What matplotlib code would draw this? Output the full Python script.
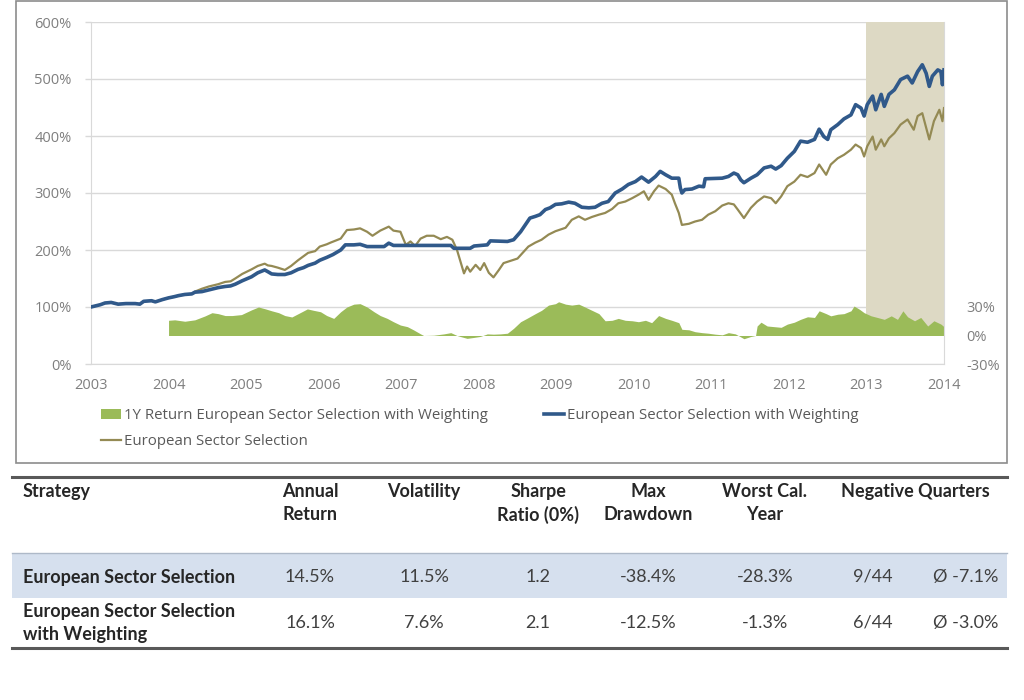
import matplotlib
matplotlib.use("Agg")
import matplotlib.pyplot as plt
from matplotlib.lines import Line2D
from matplotlib.patches import Patch, Rectangle
from matplotlib.ticker import FuncFormatter

# ---- data (decimal years, % values) ----
wt_t = [2003.00, 2003.06, 2003.12, 2003.18, 2003.26, 2003.35, 2003.45, 2003.57, 2003.63, 2003.68,
        2003.78, 2003.83, 2003.92, 2004.00, 2004.07, 2004.13, 2004.21, 2004.30, 2004.34, 2004.43,
        2004.52, 2004.64, 2004.73, 2004.80, 2004.86, 2004.95, 2005.07, 2005.15, 2005.24, 2005.28,
        2005.33, 2005.41, 2005.50, 2005.58, 2005.67, 2005.74, 2005.80, 2005.89, 2005.95, 2006.04,
        2006.12, 2006.22, 2006.28, 2006.39, 2006.47, 2006.56, 2006.78, 2006.84, 2006.90, 2007.64,
        2007.68, 2007.89, 2007.94, 2008.11, 2008.15, 2008.37, 2008.45, 2008.54, 2008.60, 2008.66,
        2008.73, 2008.79, 2008.86, 2008.92, 2008.99, 2009.07, 2009.16, 2009.24, 2009.33, 2009.42,
        2009.50, 2009.59, 2009.67, 2009.76, 2009.85, 2009.93, 2010.02, 2010.10, 2010.19, 2010.28,
        2010.34, 2010.41, 2010.49, 2010.58, 2010.60, 2010.62, 2010.66, 2010.75, 2010.84, 2010.90,
        2010.92, 2011.14, 2011.22, 2011.29, 2011.34, 2011.38, 2011.42, 2011.51, 2011.59, 2011.68,
        2011.77, 2011.83, 2011.90, 2011.98, 2012.07, 2012.15, 2012.24, 2012.33, 2012.39, 2012.45,
        2012.50, 2012.54, 2012.63, 2012.71, 2012.80, 2012.86, 2012.93, 2012.97, 2013.01, 2013.08,
        2013.12, 2013.19, 2013.23, 2013.29, 2013.36, 2013.44, 2013.53, 2013.59, 2013.66, 2013.72,
        2013.77, 2013.81, 2013.85, 2013.92, 2013.96, 2013.98, 2014.00]
wt_v = [100, 102, 104, 107, 108, 105, 106, 106, 105, 110,
        111, 109, 113, 116, 118, 120, 122, 123, 126, 127,
        130, 134, 136, 137, 140, 146, 153, 160, 165, 162,
        158, 157, 157, 160, 166, 169, 173, 177, 182, 187,
        192, 200, 209, 209, 210, 206, 206, 212, 208, 208,
        203, 203, 207, 209, 216, 215, 218, 232, 244, 256,
        259, 262, 271, 274, 280, 281, 284, 282, 275, 274,
        275, 282, 285, 300, 307, 315, 320, 328, 319, 329,
        338, 332, 326, 326, 309, 300, 306, 307, 312, 311,
        325, 326, 329, 335, 332, 323, 318, 326, 332, 344,
        347, 342, 348, 361, 373, 391, 389, 394, 412, 399,
        394, 411, 420, 430, 437, 455, 449, 435, 455, 470,
        446, 473, 452, 473, 481, 499, 505, 493, 513, 525,
        510, 487, 505, 516, 513, 490, 516]

es_t = [2003.00, 2003.06, 2003.12, 2003.18, 2003.26, 2003.35, 2003.45, 2003.57, 2003.63, 2003.68,
        2003.78, 2003.83, 2003.92, 2004.00, 2004.07, 2004.13, 2004.21, 2004.30, 2004.34, 2004.43,
        2004.52, 2004.64, 2004.73, 2004.80, 2004.86, 2004.95, 2005.07, 2005.15, 2005.24, 2005.28,
        2005.33, 2005.41, 2005.50, 2005.58, 2005.67, 2005.74, 2005.80, 2005.89, 2005.95, 2006.04,
        2006.09, 2006.22, 2006.30, 2006.39, 2006.47, 2006.56, 2006.63, 2006.73, 2006.84, 2006.90,
        2006.99, 2007.06, 2007.12, 2007.18, 2007.25, 2007.33, 2007.42, 2007.51, 2007.59, 2007.66,
        2007.72, 2007.76, 2007.81, 2007.85, 2007.89, 2007.96, 2008.02, 2008.07, 2008.13, 2008.19,
        2008.26, 2008.32, 2008.41, 2008.50, 2008.58, 2008.64, 2008.73, 2008.81, 2008.90, 2008.99,
        2009.12, 2009.20, 2009.29, 2009.37, 2009.46, 2009.55, 2009.63, 2009.72, 2009.80, 2009.89,
        2009.98, 2010.06, 2010.13, 2010.19, 2010.26, 2010.32, 2010.41, 2010.49, 2010.53, 2010.58,
        2010.62, 2010.71, 2010.79, 2010.88, 2010.96, 2011.05, 2011.14, 2011.22, 2011.29, 2011.34,
        2011.42, 2011.51, 2011.59, 2011.68, 2011.77, 2011.83, 2011.90, 2011.98, 2012.07, 2012.15,
        2012.24, 2012.33, 2012.39, 2012.48, 2012.54, 2012.63, 2012.71, 2012.80, 2012.86, 2012.93,
        2012.97, 2013.01, 2013.08, 2013.12, 2013.19, 2013.23, 2013.29, 2013.36, 2013.44, 2013.53,
        2013.61, 2013.66, 2013.72, 2013.81, 2013.87, 2013.94, 2013.98, 2014.00]
es_v = [100, 102, 104, 107, 108, 105, 106, 106, 105, 110,
        111, 109, 113, 116, 118, 120, 122, 123, 127, 132,
        136, 140, 144, 145, 150, 158, 166, 172, 176, 173,
        172, 169, 165, 172, 182, 189, 195, 198, 206, 210,
        213, 220, 235, 236, 238, 232, 225, 234, 241, 234,
        232, 209, 215, 207, 220, 225, 225, 219, 223, 218,
        200, 182, 159, 171, 162, 174, 165, 177, 160, 152,
        165, 177, 181, 185, 197, 206, 213, 218, 227, 233,
        239, 253, 259, 253, 258, 262, 265, 272, 282, 285,
        291, 297, 303, 288, 303, 313, 307, 297, 282, 265,
        244, 246, 250, 253, 262, 268, 278, 282, 280, 271,
        256, 274, 285, 294, 291, 282, 294, 312, 320, 332,
        328, 335, 350, 332, 350, 361, 367, 376, 385, 379,
        364, 382, 399, 376, 394, 382, 396, 405, 420, 429,
        411, 435, 440, 394, 426, 446, 426, 449]

r1y_t = [2004.00, 2004.08, 2004.21, 2004.34, 2004.47, 2004.56, 2004.64, 2004.73, 2004.82, 2004.94,
         2005.07, 2005.16, 2005.25, 2005.33, 2005.42, 2005.50, 2005.59, 2005.72, 2005.79, 2005.87,
         2005.96, 2006.04, 2006.13, 2006.22, 2006.30, 2006.39, 2006.47, 2006.56, 2006.65, 2006.73,
         2006.82, 2006.90, 2006.99, 2007.08, 2007.16, 2007.25, 2007.29, 2007.42, 2007.55, 2007.64,
         2007.68, 2007.72, 2007.76, 2007.85, 2007.94, 2008.02, 2008.11, 2008.19, 2008.28, 2008.37,
         2008.45, 2008.54, 2008.62, 2008.73, 2008.81, 2008.90, 2008.99, 2009.03, 2009.12, 2009.20,
         2009.29, 2009.37, 2009.46, 2009.55, 2009.63, 2009.72, 2009.80, 2009.89, 2009.98, 2010.06,
         2010.15, 2010.23, 2010.32, 2010.41, 2010.49, 2010.58, 2010.62, 2010.71, 2010.79, 2010.88,
         2010.96, 2011.05, 2011.14, 2011.22, 2011.31, 2011.39, 2011.42, 2011.51, 2011.57, 2011.59,
         2011.64, 2011.72, 2011.81, 2011.90, 2011.98, 2012.07, 2012.15, 2012.24, 2012.33, 2012.39,
         2012.48, 2012.54, 2012.63, 2012.71, 2012.80, 2012.84, 2012.91, 2012.97, 2013.06, 2013.14,
         2013.23, 2013.32, 2013.40, 2013.47, 2013.53, 2013.62, 2013.70, 2013.79, 2013.87, 2013.96,
         2014.00]
r1y_v = [16, 16.5, 15, 16.5, 20.6, 24, 23, 21, 21, 22,
         27, 30, 28, 26, 24, 21, 19.5, 25, 28, 26.5,
         25, 21, 18, 25, 30, 33, 33.5, 30, 25, 21,
         18, 14.5, 11, 9.3, 5.9, 1.7, 0, 0.3, 1.7, 3,
         1.5, 0, -1, -3, -2, -1, 1.7, 1.4, 1.7, 2.4,
         7.6, 14.5, 18, 23, 26.5, 32, 33.5, 35.5, 33, 32,
         33, 30, 26.5, 23, 15.5, 16, 18, 16, 15.5, 14.5,
         16, 13.5, 21, 18, 16, 13.5, 6.5, 6, 4, 3,
         2.4, 1.4, 0.7, 3, 1.7, -2, -3.4, -1, 0, 10,
         14, 10, 9.3, 8.6, 12, 14, 17, 19.7, 19, 26,
         23, 20.7, 22.4, 23, 26, 31, 27.6, 24, 20.7, 19,
         17, 20.7, 17, 26, 19.7, 15.5, 19, 10, 15.5, 12,
         9.3]

shade_start, shade_end = 2013, 2014
years = list(range(2003, 2015))
left_ticks = [0, 100, 200, 300, 400, 500, 600]
right_ticks = [-30, 0, 30]

labels = ["1Y Return European Sector Selection with Weighting",
          "European Sector Selection",
          "European Sector Selection with Weighting"]

# table content
tbl_header = ["Strategy", "Annual\nReturn", "Volatility", "Sharpe\nRatio (0%)",
              "Max\nDrawdown", "Worst Cal.\nYear", "Negative Quarters"]
tbl_names = ["European Sector Selection", "European Sector Selection\nwith Weighting"]
tbl_annual = ["14.5%", "16.1%"]
tbl_vol = ["11.5%", "7.6%"]
tbl_sharpe = ["1.2", "2.1"]
tbl_maxdd = ["-38.4%", "-12.5%"]
tbl_worst = ["-28.3%", "-1.3%"]
tbl_negq = ["9/44", "6/44"]
tbl_negavg = ["Ø -7.1%", "Ø -3.0%"]

# ---- styling ----
C_BLUE = "#30598A"
C_GOLD = "#948A54"
C_GREEN = "#9BBB59"
C_SHADE = "#DDD9C4"
C_GRID = "#D9D9D9"
C_AXTXT = "#7F7F7F"
C_LEG = "#595959"

W, H = 1024, 700
def fx(px):
    return px / W
def fy(py):
    return 1 - py / H

plt.rcParams['font.family'] = ['Open Sans', 'DejaVu Sans']

fig = plt.figure(figsize=(W / 100, H / 100), dpi=100)

# outer chart frame
fig.add_artist(Rectangle((fx(16), fy(463)), fx(1007) - fx(16), fy(1) - fy(463),
                         transform=fig.transFigure, fill=False, edgecolor="#8C8C8C", lw=1.2))

rect = [fx(91), fy(364), fx(944) - fx(91), fy(22) - fy(364)]
ax = fig.add_axes(rect)
ax2 = ax.twinx()
ax3 = fig.add_axes(rect, sharex=ax, sharey=ax)

# left axis: grid
ax.set_xlim(2003, 2014)
ax.set_ylim(0, 600)
ax.set_yticks(left_ticks)
ax.yaxis.set_major_formatter(FuncFormatter(lambda v, p: f"{v:.0f}%"))
ax.set_xticks(years)
ax.grid(axis='y', color=C_GRID, lw=1)
ax.tick_params(axis='y', colors=C_AXTXT, labelsize=10.5, length=4, width=1, pad=10)
ax.tick_params(axis='x', colors=C_AXTXT, labelsize=10.5, length=0, pad=10)
ax.tick_params(axis='both', color=C_GRID)
for s in ['top', 'right']:
    ax.spines[s].set_visible(False)
for s in ['left', 'bottom']:
    ax.spines[s].set_color(C_GRID)

# right axis: shaded last year and 1Y return area
ax2.set_ylim(-30, 330)
ax2.set_yticks(right_ticks)
ax2.yaxis.set_major_formatter(FuncFormatter(lambda v, p: f"{v:.0f}%"))
ax2.tick_params(axis='y', colors=C_AXTXT, labelsize=10.5, length=0, pad=16)
ax2.fill_between([shade_start, shade_end], 0, 330, color=C_SHADE, lw=0, zorder=1)
ax2.fill_between(r1y_t, 0, r1y_v, color=C_GREEN, lw=0, zorder=2)
for s in ['top', 'left', 'bottom']:
    ax2.spines[s].set_visible(False)
ax2.spines['right'].set_color(C_GRID)

# lines on top
ax3.axis('off')
ax3.patch.set_visible(False)
ax3.plot(es_t, es_v, color=C_GOLD, lw=1.6, zorder=3)
ax3.plot(wt_t, wt_v, color=C_BLUE, lw=2.6, zorder=4)

handles = [Patch(facecolor=C_GREEN, edgecolor='none'),
           Line2D([], [], color=C_GOLD, lw=1.6),
           Line2D([], [], color=C_BLUE, lw=2.6)]
leg = fig.legend(handles, labels, ncol=2, loc='upper left',
                 bbox_to_anchor=(fx(101), fy(408)), frameon=False, fontsize=10.8,
                 handlelength=1.35, handleheight=0.7, handletextpad=0.2,
                 columnspacing=3.7, labelspacing=0.72, borderaxespad=0, borderpad=0)
for t in leg.get_texts():
    t.set_color(C_LEG)

# ---- table ----
TF = ['Lato', 'DejaVu Sans']
HEAD_C = "#262626"
VAL_C = "#404040"
FS = 13
fig.add_artist(Line2D([fx(12), fx(1007)], [fy(477), fy(477)], color="#595959", lw=2.2))
fig.add_artist(Rectangle((fx(12), fy(598)), fx(1007) - fx(12), fy(553) - fy(598),
                         transform=fig.transFigure, facecolor="#D6E0EE", edgecolor='none'))
fig.add_artist(Line2D([fx(12), fx(1007)], [fy(553), fy(553)], color="#AEB9C8", lw=1))
fig.add_artist(Line2D([fx(12), fx(1007)], [fy(648), fy(648)], color="#595959", lw=2.2))

col_x = [23, 310, 424, 538, 648, 765, 915]
fig.text(fx(col_x[0]), fy(483), tbl_header[0], ha='left', va='top', fontsize=FS,
         fontweight='bold', color=HEAD_C, family=TF, linespacing=1.4)
for cx, h in zip(col_x[1:], tbl_header[1:]):
    fig.text(fx(cx), fy(483), h, ha='center', va='top', fontsize=FS, fontweight='bold',
             color=HEAD_C, family=TF, linespacing=1.4)

row_y = [577, 623]
cols = [tbl_annual, tbl_vol, tbl_sharpe, tbl_maxdd, tbl_worst]
for i, ry in enumerate(row_y):
    fig.text(fx(23), fy(ry), tbl_names[i], ha='left', va='center', fontsize=FS,
             fontweight='bold', color=HEAD_C, family=TF, linespacing=1.4)
    for cx, col in zip(col_x[1:6], cols):
        fig.text(fx(cx), fy(ry), col[i], ha='center', va='center', fontsize=FS,
                 color=VAL_C, family=TF)
    fig.text(fx(873), fy(ry), tbl_negq[i], ha='center', va='center', fontsize=FS,
             color=VAL_C, family=TF)
    fig.text(fx(966), fy(ry), tbl_negavg[i], ha='center', va='center', fontsize=FS,
             color=VAL_C, family=TF)

fig.savefig("out.png", dpi=100)
